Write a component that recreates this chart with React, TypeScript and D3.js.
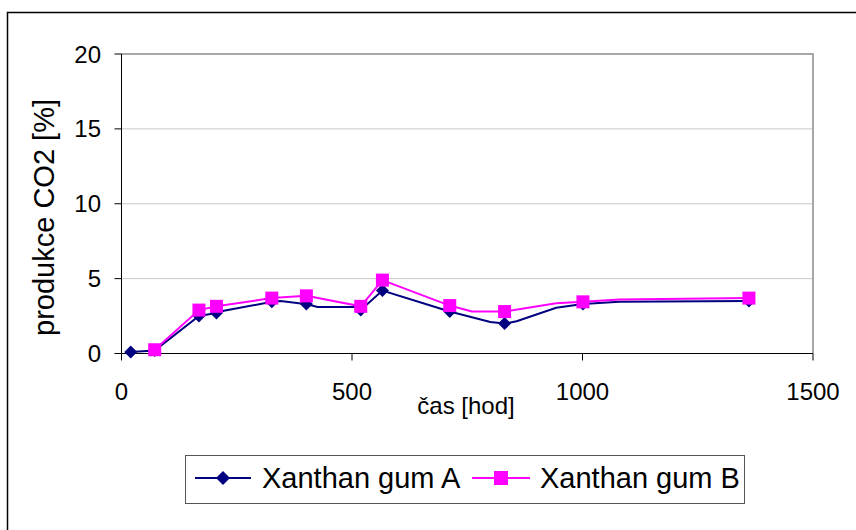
import React from "react";
import * as d3 from "d3";

// Measurement times [h] and CO2 production [%] for each sample.
const timesA = [20, 72, 168, 206, 222, 326, 345, 385, 401, 425, 510, 519, 566, 712, 800, 831, 857, 943, 1001, 1080, 1361];
const valuesA = [0.1, 0.2, 2.5, 2.7, 2.85, 3.45, 3.5, 3.35, 3.3, 3.1, 3.1, 2.9, 4.2, 2.8, 2.1, 2.0, 2.15, 3.05, 3.3, 3.45, 3.5];
const markedA = [20, 72, 168, 206, 326, 401, 519, 566, 712, 831, 1001, 1361];

const timesB = [72, 168, 206, 326, 401, 519, 566, 583, 712, 760, 831, 943, 1001, 1080, 1361];
const valuesB = [0.25, 2.9, 3.15, 3.7, 3.85, 3.15, 4.9, 4.7, 3.2, 2.8, 2.8, 3.35, 3.45, 3.6, 3.7];
const markedB = [72, 168, 206, 326, 401, 519, 566, 712, 831, 1001, 1361];

const seriesNames = ["Xanthan gum A", "Xanthan gum B"];
const xTicks = [0, 500, 1000, 1500];
const yTicks = [0, 5, 10, 15, 20];

const W = 856;
const H = 530;
const FONT = "'Liberation Sans', Arial, sans-serif";
const NAVY = "#000080";
const MAGENTA = "#FF00FF";

export default function App() {
  const left = 121.5;
  const right = 813;
  const top = 54;
  const bottom = 353.5;

  const x = d3.scaleLinear().domain([0, 1500]).range([left, right]);
  const y = d3.scaleLinear().domain([0, 20]).range([bottom, top]);

  const line = d3
    .line<[number, number]>()
    .x((d) => x(d[0]))
    .y((d) => y(d[1]));

  const ptsA: [number, number][] = timesA.map((t, i) => [t, valuesA[i]]);
  const ptsB: [number, number][] = timesB.map((t, i) => [t, valuesB[i]]);
  const markA = ptsA.filter((p) => markedA.includes(p[0]));
  const markB = ptsB.filter((p) => markedB.includes(p[0]));

  const diamond = (cx: number, cy: number, r: number) =>
    `M${cx},${cy - r}L${cx + r},${cy}L${cx},${cy + r}L${cx - r},${cy}Z`;

  const legY = 478;
  const sq = 13;

  return (
    <svg
      width={W}
      height={H}
      style={{ position: "absolute", left: 0, top: 0, background: "#fff" }}
      fontFamily={FONT}
    >
      {/* chart frame */}
      <path d={`M7.5,${H}V12.5H${W}`} fill="none" stroke="#000" strokeWidth={1.5} />

      {/* gridlines */}
      {yTicks
        .filter((t) => t > 0 && t < 20)
        .map((t) => (
          <line key={t} x1={left} x2={right} y1={y(t)} y2={y(t)} stroke="#c8c8c8" strokeWidth={1} />
        ))}
      {/* plot area border */}
      <path d={`M${left},${y(20)}H${right}V${bottom}`} fill="none" stroke="#8c8c8c" strokeWidth={1.5} />

      {/* axes */}
      <line x1={left} x2={left} y1={top} y2={bottom} stroke="#000" strokeWidth={1} />
      <line x1={left} x2={right} y1={bottom} y2={bottom} stroke="#000" strokeWidth={1} />

      {yTicks.map((t) => (
        <g key={t}>
          <line x1={left - 7} x2={left} y1={y(t)} y2={y(t)} stroke="#000" />
          <text x={101} y={y(t) + 8.5} textAnchor="end" fontSize={24} fill="#000">
            {t}
          </text>
        </g>
      ))}
      {xTicks.map((t) => (
        <g key={t}>
          <line x1={x(t)} x2={x(t)} y1={bottom} y2={bottom + 7} stroke="#000" />
          <text x={x(t)} y={400} textAnchor="middle" fontSize={24} fill="#000">
            {t}
          </text>
        </g>
      ))}

      <text x={466} y={414} textAnchor="middle" fontSize={24} fill="#000">
        čas [hod]
      </text>
      <text
        transform={`translate(54,217.5) rotate(-90)`}
        textAnchor="middle"
        fontSize={29}
        fill="#000"
      >
        produkce CO2 [%]
      </text>

      {/* series lines */}
      <path d={line(ptsA) ?? ""} fill="none" stroke={NAVY} strokeWidth={2} />
      {markA.map((p, i) => (
        <path key={i} d={diamond(x(p[0]), y(p[1]), 6.5)} fill={NAVY} />
      ))}
      <path d={line(ptsB) ?? ""} fill="none" stroke={MAGENTA} strokeWidth={2} />
      {markB.map((p, i) => (
        <rect key={i} x={x(p[0]) - sq / 2} y={y(p[1]) - sq / 2} width={sq} height={sq} fill={MAGENTA} />
      ))}

      {/* legend */}
      <rect x={185.5} y={455.5} width={559} height={48} fill="#fff" stroke="#555" strokeWidth={1} />
      <line x1={195} x2={251} y1={legY} y2={legY} stroke={NAVY} strokeWidth={2} />
      <path d={diamond(223, legY, 7)} fill={NAVY} />
      <text x={262} y={488} fontSize={29} fill="#000">
        {seriesNames[0]}
      </text>
      <line x1={472} x2={530} y1={legY} y2={legY} stroke={MAGENTA} strokeWidth={2} />
      <rect x={494} y={legY - 7} width={14} height={14} fill={MAGENTA} />
      <text x={540} y={488} fontSize={29} fill="#000">
        {seriesNames[1]}
      </text>
    </svg>
  );
}
